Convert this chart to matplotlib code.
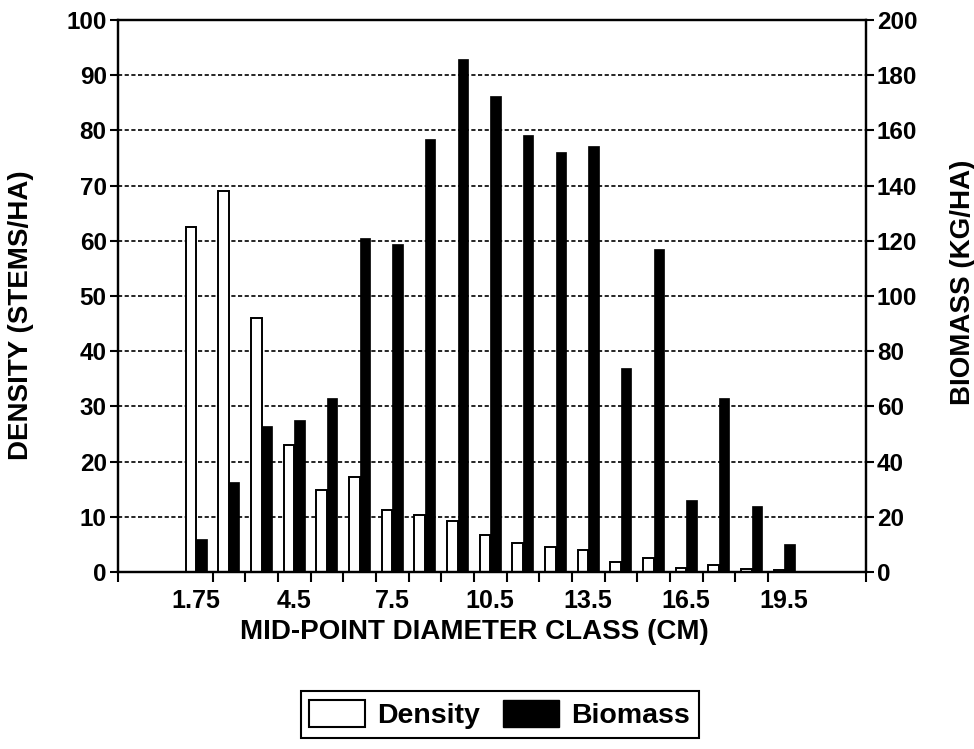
import matplotlib.pyplot as plt
from matplotlib.patches import Patch
import numpy as np

plt.rcParams['font.family'] = ['Liberation Sans', 'DejaVu Sans']
plt.rcParams['font.weight'] = 'bold'
plt.rcParams['axes.labelweight'] = 'bold'

# Diameter classes (cm) and values
classes = ['1.75', '2.5', '3.5', '4.5', '5.5', '6.5', '7.5', '8.5', '9.5', '10.5',
           '11.5', '12.5', '13.5', '14.5', '15.5', '16.5', '17.5', '18.5', '19.5']
density = [62.5, 69, 46, 23, 14.8, 17.2, 11.2, 10.3, 9.2, 6.7,
           5.2, 4.6, 3.9, 1.8, 2.6, 0.7, 1.3, 0.6, 0.4]
biomass = [12, 32.5, 53, 55, 63, 121, 119, 157, 186, 172.5,
           158.5, 152, 154.5, 74, 117, 26, 63, 24, 10]
shown_labels = ['1.75', '4.5', '7.5', '10.5', '13.5', '16.5', '19.5']

x = np.arange(len(classes))
w = 0.32

fig = plt.figure(figsize=(9.74, 7.49), dpi=100)
ax = fig.add_axes([0.121, 0.2363, 0.768, 0.737])
ax2 = ax.twinx()

# gridlines under the bars
for yv in range(10, 100, 10):
    ax.axhline(yv, color='black', lw=1.2, ls=(0, (2.5, 1.5)), zorder=0)

ax.bar(x - w / 2, density, w, color='white', edgecolor='black', linewidth=1.4, zorder=2)
ax2.bar(x + w / 2, biomass, w, color='black', edgecolor='black', linewidth=0.5, zorder=2)

ax.set_xlim(-2.4, 20.5)
ax.set_ylim(0, 100)
ax2.set_ylim(0, 200)
ax.set_yticks(range(0, 101, 10))
ax2.set_yticks(range(0, 201, 20))

pos = [classes.index(c) for c in shown_labels]
ax.set_xticks(pos)
ax.set_xticklabels(shown_labels)
ax.set_xticks(list(np.arange(0.5, 18, 1)) + [-2.4, 20.5], minor=True)
ax.tick_params(axis='x', which='major', length=0, pad=12, labelsize=18)
ax.tick_params(axis='x', which='minor', length=7, width=1.5, direction='out')
ax.tick_params(axis='y', length=6, width=1.5, labelsize=17.5, pad=2)
ax2.tick_params(axis='y', length=6, width=1.5, labelsize=17.5, pad=2)

for a in (ax, ax2):
    for s in a.spines.values():
        s.set_linewidth(1.6)

ax.set_ylabel('DENSITY (STEMS/HA)', fontsize=20)
ax2.set_ylabel('BIOMASS (KG/HA)', fontsize=20)
ax.set_xlabel('MID-POINT DIAMETER CLASS (CM)', fontsize=20, labelpad=6)
ax.yaxis.set_label_coords(-0.112, 0.466)
ax2.yaxis.set_label_coords(1.112, 0.525)
ax.xaxis.set_label_coords(0.476, -0.085)

handles = [Patch(facecolor='white', edgecolor='black', linewidth=1.5, label='Density'),
           Patch(facecolor='black', edgecolor='black', label='Biomass')]
leg = fig.legend(handles=handles, loc='upper center', bbox_to_anchor=(0.513, 0.077), ncol=2,
                 fancybox=False, edgecolor='black', framealpha=1, fontsize=20.5,
                 handlelength=1.95, handleheight=1.1, handletextpad=0.45,
                 columnspacing=0.8, borderpad=0.3, borderaxespad=0)
leg.get_frame().set_linewidth(1.5)

fig.savefig('out.png', dpi=100)
